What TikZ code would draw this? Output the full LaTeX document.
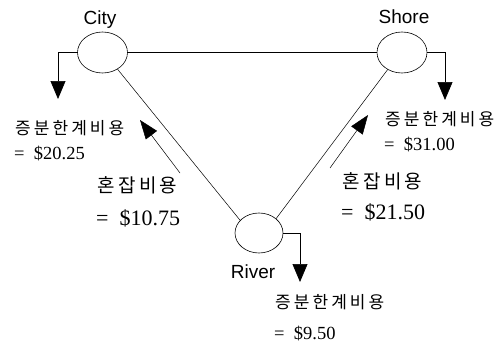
\documentclass[tikz,border=0pt]{standalone}
\usepackage{fontspec}
\setmainfont{Liberation Serif}
\setsansfont{Liberation Sans}
\newfontfamily\hangul[LetterSpace=18]{Noto Sans CJK KR}
\usetikzlibrary{positioning,arrows.meta,shapes.geometric}
\tikzset{
  loc/.style={ellipse, draw=black, line width=0.6pt, minimum width=50pt, minimum height=41pt, inner sep=0pt},
  place/.style={font=\sffamily\fontsize{19}{19}\selectfont, inner sep=0pt},
  mclbl/.style={anchor=west, inner sep=0pt, font=\hangul\fontsize{17}{17}\selectfont},
  mcval/.style={anchor=west, inner sep=0pt, font=\fontsize{18.5}{18.5}\selectfont},
  cglbl/.style={anchor=west, inner sep=0pt, font=\hangul\fontsize{19}{19}\selectfont},
  cgval/.style={anchor=west, inner sep=0pt, font=\fontsize{22}{22}\selectfont},
  link/.style={draw=black, line width=0.5pt},
  outarr/.style={draw=black, line width=0.7pt, -{Triangle[length=18pt,width=15pt]}},
  cgarr/.style={draw=black, line width=0.5pt, -{Triangle[length=19pt,width=14pt]}}
}
\begin{document}
\begin{tikzpicture}[x=1pt, y=-1pt]
    \useasboundingbox (0,0) rectangle (497,343);
    \node[loc] (city) at (102.5,52.5) {};
    \node[loc] (shore) at (402,52.5) {};
    \node[loc, minimum width=48pt, minimum height=40pt] (river) at (259,233) {};
    \node[place] (cityname) at (100,20) {City};
    \node[place] (shorename) at (404,17) {Shore};
    \node[place] (rivername) at (253,272) {River};
    \draw[link] (city) -- (shore);
    \draw[link] (city.-48) -- (river.146);
    \draw[link] (shore.-130) -- (river.40);
    % marginal cost arrows
    \coordinate (citytip) at (58,99);
    \coordinate (shoretip) at (445,100);
    \coordinate (rivertip) at (300,282);
    \draw[outarr] (city.west) -| (citytip);
    \draw[outarr] (shore.east) -| (shoretip);
    \draw[outarr] (river.east) -| (rivertip);
    \node[mclbl] (citymc) at (15,128) {증분한계비용};
    \node[mcval] (citymcv) at (14,154) {=\enspace\$20.25};
    \node[mclbl] (shoremc) at (385,119) {증분한계비용};
    \node[mcval] (shoremcv) at (384,145) {=\enspace\$31.00};
    \node[mclbl] (rivermc) at (275,302) {증분한계비용};
    \node[mcval] (rivermcv) at (274,333) {=\enspace\$9.50};
    % congestion
    \coordinate (cgl1) at (180,173);
    \coordinate (cgl2) at (140,120);
    \coordinate (cgr1) at (330,168);
    \coordinate (cgr2) at (368,115);
    \draw[cgarr] (cgl1) -- (cgl2);
    \draw[cgarr] (cgr1) -- (cgr2);
    \node[cglbl] (cgleft) at (97,185) {혼잡비용};
    \node[cgval] (cgleftv) at (96,218) {=\enspace\$10.75};
    \node[cglbl] (cgright) at (342,181) {혼잡비용};
    \node[cgval] (cgrightv) at (341,212) {=\enspace\$21.50};
\end{tikzpicture}
\end{document}
